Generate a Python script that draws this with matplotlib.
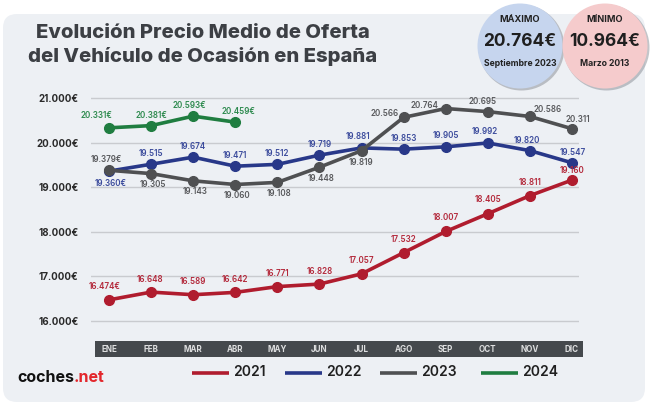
import matplotlib
matplotlib.use("Agg")
import matplotlib.pyplot as plt
from matplotlib.patches import FancyBboxPatch, Circle, Rectangle
import matplotlib.transforms as mtransforms

plt.rcParams['font.family'] = ['Inter', 'DejaVu Sans']

# data
months = ["ENE", "FEB", "MAR", "ABR", "MAY", "JUN", "JUL", "AGO", "SEP", "OCT", "NOV", "DIC"]
years = ["2021", "2022", "2023", "2024"]
v2021 = [16474, 16648, 16589, 16642, 16771, 16828, 17057, 17532, 18007, 18405, 18811, 19160]
v2022 = [19360, 19515, 19674, 19471, 19512, 19719, 19881, 19853, 19905, 19992, 19820, 19547]
v2023 = [19379, 19305, 19143, 19060, 19108, 19448, 19819, 20566, 20764, 20695, 20586, 20311]
v2024 = [20331, 20381, 20593, 20459]
yticks = [16000, 17000, 18000, 19000, 20000, 21000]

max_box = ["MÁXIMO", "20.764€", "Septiembre 2023"]
min_box = ["MÍNIMO", "10.964€", "Marzo 2013"]

# styles
line_cols = ["#b01c2e", "#283889", "#4f5052", "#1f7d40"]
lab_cols = ["#b3283a", "#3b4b9c", "#58595c", "#2d8a4e"]
# label offsets in pixels (dx, dy) for every point
off2021 = [(-4, 13), (-1, 13), (0, 13), (0, 13), (0, 13), (0, 13), (0, 13), (0, 13), (0, 14), (0, 14), (0, 13), (0, 10)]
off2022 = [(2, -12), (0, 11), (0, 11), (0, 11), (0, 11), (0, 11), (-4, 11), (0, 11), (0, 11), (-3, 11), (-3, 10), (1, 10)]
off2023 = [(-3, 11), (2, -11), (2, -11), (2, -11), (2, -11), (2, -11), (-1, -12), (-19, 4), (-21, 3), (-5, 10), (18, 7), (6, 9)]
off2024 = [(-13, 12), (0, 10), (-4, 11), (3, 11)]


def fmt(v, euro):
    s = f"{v:,}".replace(",", ".")
    return s + "€" if euro else s


W, H = 650, 407
fig = plt.figure(figsize=(W / 100, H / 100), dpi=100)
fig.patch.set_facecolor("white")

# background layer in pixel coords
bg = fig.add_axes([0, 0, 1, 1])
bg.set_xlim(0, W)
bg.set_ylim(H, 0)
bg.axis("off")

bg.add_patch(FancyBboxPatch((3, 14), 642, 388, boxstyle="round,pad=0,rounding_size=14",
                            fc="#edf0f4", ec="none"))

bg.text(203, 33, "Evolución Precio Medio de Oferta", ha="center", va="center",
        fontsize=14.6, fontweight="heavy", color="#3c3f44")
bg.text(203, 56, "del Vehículo de Ocasión en España", ha="center", va="center",
        fontsize=14.6, fontweight="heavy", color="#3c3f44")

# summary circles
for cx, fc, txt in [(520, "#c6d5ee", max_box), (605, "#f5cbcc", min_box)]:
    bg.add_patch(Circle((cx + 1.5, 47.5), 43, fc="#7a7f88", ec="none", alpha=0.45))
    bg.add_patch(Circle((cx, 46), 42.5, fc=fc, ec="none"))
    bg.text(cx, 20, txt[0], ha="center", va="center", fontsize=6.6, fontweight="bold", color="#222222")
    bg.text(cx, 41, txt[1], ha="center", va="center", fontsize=12.5, fontweight="bold", color="#1f1f1f")
    bg.text(cx, 63, txt[2], ha="center", va="center", fontsize=6.2, fontweight="bold", color="#222222")

# month bar
bg.add_patch(Rectangle((95, 341), 488, 16, fc="#45494d", ec="none"))

# legend
leg_x = [192, 285, 380, 481]
for x0, yr, col in zip(leg_x, years, line_cols):
    bg.plot([x0, x0 + 37], [373, 373], color=col, lw=2.6, solid_capstyle="butt")
    bg.text(x0 + 41, 372, yr, ha="left", va="center", fontsize=10, fontweight="semibold", color="#202020")

# logo
t1 = bg.text(17, 377, "coches", ha="left", va="center", fontsize=11.5, fontweight="bold", color="#111111")
fig.canvas.draw()
bb = t1.get_window_extent()
x_end = bg.transData.inverted().transform((bb.x1, bb.y0))[0]
bg.text(x_end, 377, ".net", ha="left", va="center", fontsize=11.5, fontweight="bold", color="#e3262b")

# chart axes
px_per_x = (572 - 109) / 11
px_per_y = (321 - 98) / 5000
x0p, x1p = 91, 579
y0p, y1p = 90, 330
ax = fig.add_axes([x0p / W, 1 - y1p / H, (x1p - x0p) / W, (y1p - y0p) / H])
ax.set_xlim((x0p - 109) / px_per_x, 11 + (x1p - 572) / px_per_x)
ax.set_ylim(16000 - (y1p - 321) / px_per_y, 21000 + (98 - y0p) / px_per_y)
ax.patch.set_alpha(0)
for s in ax.spines.values():
    s.set_visible(False)
ax.set_xticks([])
ax.set_yticks(yticks)
ax.set_yticklabels([fmt(v, True) for v in yticks], fontsize=7, fontweight="bold", color="#2a2a2a")
ax.tick_params(axis="y", length=0, pad=9)
ax.grid(axis="y", color="#c9cbcf", lw=1)
ax.set_axisbelow(True)

series = [v2021, v2022, v2023, v2024]
offsets = [off2021, off2022, off2023, off2024]
for i, (vals, offs) in enumerate(zip(series, offsets)):
    xs = list(range(len(vals)))
    ax.plot(xs, vals, color=line_cols[i], lw=2.6, marker="o", ms=7, clip_on=False, zorder=3)
    for j, (v, (dx, dy)) in enumerate(zip(vals, offs)):
        euro = (j == 0) or (i == 3)
        ax.annotate(fmt(v, euro), (j, v), xytext=(dx, dy), textcoords="offset pixels",
                    ha="center", va="center", fontsize=5.8, fontweight="semibold",
                    color=lab_cols[i], zorder=4)

# month names on the bar
trans = mtransforms.blended_transform_factory(ax.transData, fig.transFigure)
for k, m in enumerate(months):
    ax.text(k, 1 - 349 / H, m, transform=trans, ha="center", va="center",
            fontsize=5.8, fontweight="bold", color="#dedfe0")

fig.savefig("out.png", dpi=100, facecolor="white")
